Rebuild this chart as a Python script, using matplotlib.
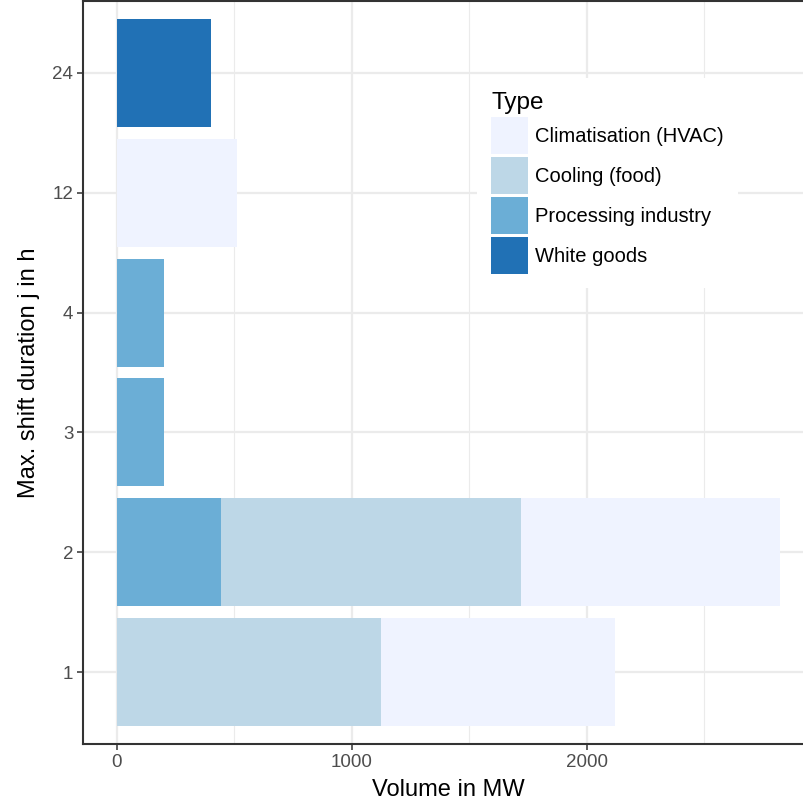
import numpy as np
import matplotlib
matplotlib.use("Agg")
import matplotlib.pyplot as plt
from matplotlib.patches import Patch
from matplotlib.ticker import MultipleLocator

plt.rcParams["font.family"] = ["Liberation Sans", "DejaVu Sans"]

# data (MW), one row per max. shift duration
durations = ["1", "2", "3", "4", "12", "24"]
processing = [0, 443, 200, 200, 0, 0]
cooling = [1123, 1276, 0, 0, 0, 0]
hvac = [996, 1102, 0, 0, 514, 0]
white_goods = [0, 0, 0, 0, 0, 400]

type_names = ["Climatisation (HVAC)", "Cooling (food)", "Processing industry", "White goods"]
type_colors = ["#EFF3FF", "#BDD7E7", "#6BAED6", "#2171B5"]

fig = plt.figure(figsize=(8.04, 8.07), dpi=100)
ax = fig.add_axes([83.5 / 804, 63 / 807, (813 - 83.5) / 804, (806 - 63) / 807])

y = np.arange(len(durations))
left = np.zeros(len(durations))
# stacking order as in the original: processing, cooling, hvac, white goods
for vals, col in [(processing, type_colors[2]), (cooling, type_colors[1]),
                  (hvac, type_colors[0]), (white_goods, type_colors[3])]:
    vals = np.array(vals, dtype=float)
    ax.barh(y, vals, left=left, height=0.9, color=col, linewidth=0, zorder=3)
    left += vals

total_max = left.max()
ax.set_xlim(-0.05 * total_max, 1.05 * total_max)
ax.set_ylim(-0.6, len(durations) - 0.4)
ax.set_yticks(y)
ax.set_yticklabels(durations)
ax.xaxis.set_major_locator(MultipleLocator(1000))
ax.xaxis.set_minor_locator(MultipleLocator(500))

ax.grid(which="major", color="#EBEBEB", linewidth=1.6, zorder=0)
ax.grid(which="minor", axis="x", color="#EBEBEB", linewidth=0.8, zorder=0)
ax.set_axisbelow(True)

for s in ["left", "bottom", "top"]:
    ax.spines[s].set_color("#333333")
    ax.spines[s].set_linewidth(1.5)
ax.spines["right"].set_visible(False)

ax.tick_params(which="major", length=4.3, width=1.1, color="#333333",
               labelcolor="#4D4D4D", labelsize=13.5, pad=3)
ax.tick_params(which="minor", length=0)

ax.set_xlabel("Volume in MW", fontsize=17, labelpad=6)
ax.set_ylabel("Max. shift duration j in h", fontsize=17, labelpad=9)

handles = [Patch(facecolor=c, edgecolor="none", label=n) for n, c in zip(type_names, type_colors)]
leg = ax.legend(handles=handles, title="Type", loc="upper left",
                bbox_to_anchor=(477 / 804, 1 - 78 / 807), bbox_transform=fig.transFigure,
                fontsize=14.5, title_fontsize=17.5, frameon=True, fancybox=False,
                handlelength=1.84, handleheight=2.45, labelspacing=0.15,
                handletextpad=0.35, borderpad=0.7, borderaxespad=0)
leg.get_frame().set_facecolor("white")
leg.get_frame().set_edgecolor("none")
leg.get_frame().set_alpha(1)
leg._legend_box.align = "left"
leg.set_zorder(5)

fig.savefig("out.png", dpi=100)
